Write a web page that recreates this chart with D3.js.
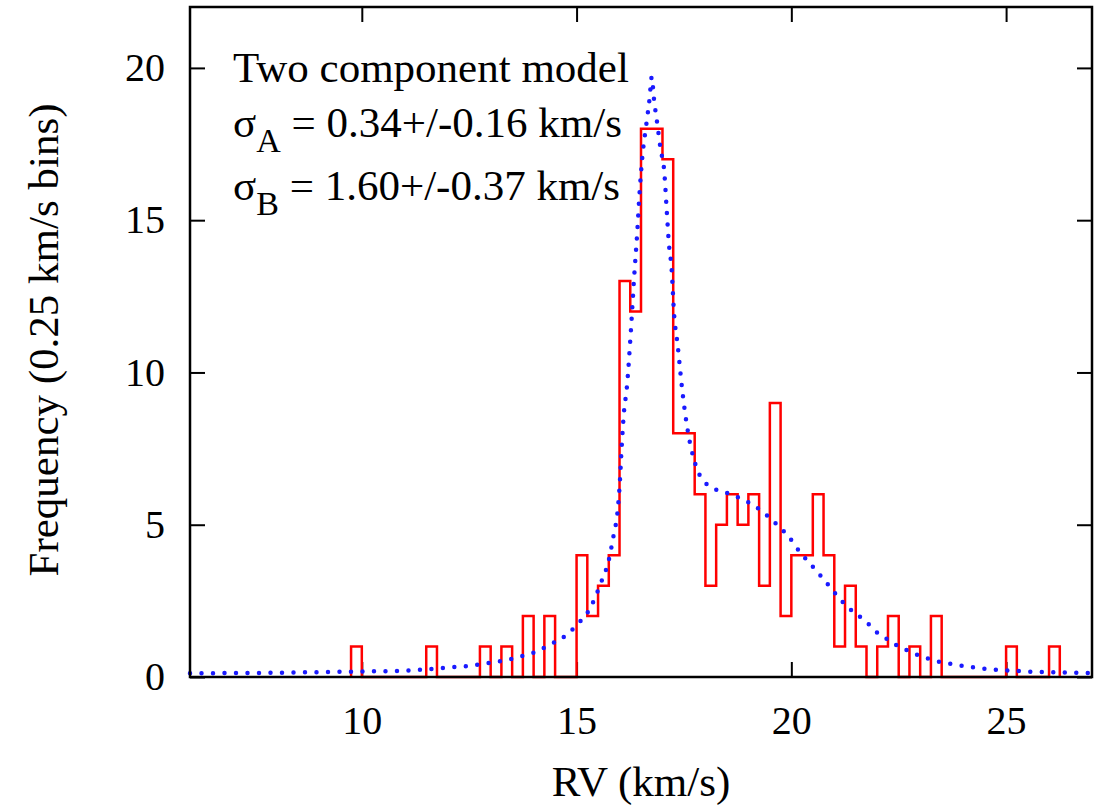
<!DOCTYPE html>
<html>
<head>
<meta charset="utf-8">
<script src="https://cdn.jsdelivr.net/npm/d3@7"></script>
<style>
  body { margin: 0; background: #fff; }
</style>
</head>
<body>
<script>
// histogram: left edge of each 0.25 km/s bin and its count
var binStart = [9.75, 11.5, 12.75, 13.25, 13.75, 14.25,
                15.0, 15.25, 15.5, 15.75, 16.0, 16.25, 16.5, 16.75, 17.0, 17.25, 17.5, 17.75,
                18.0, 18.25, 18.5, 18.75, 19.0, 19.25, 19.5, 19.75, 20.0, 20.25, 20.5, 20.75,
                21.0, 21.25, 21.5, 22.0, 22.25, 22.75, 23.25, 25.0, 26.0];
var binCount = [1, 1, 1, 1, 2, 2,
                4, 2, 3, 4, 13, 12, 18, 18, 17, 8, 8, 6,
                3, 5, 6, 5, 6, 3, 9, 2, 4, 4, 6, 4,
                1, 3, 1, 1, 2, 1, 2, 1, 1];
var binWidth = 0.25;

// two component model curve
var modelRV = [6.0, 7.0, 8.0, 9.0, 10.0, 10.8, 11.3, 11.9, 12.45, 13.0, 13.5, 13.8, 14.1, 14.35, 14.6,
               15.0, 15.33, 15.56, 15.75, 15.87, 15.95, 16.01, 16.05, 16.10, 16.17, 16.26, 16.34, 16.41,
               16.47, 16.53, 16.63, 16.70, 16.75, 16.80, 16.88, 16.96, 17.04, 17.10, 17.15, 17.21, 17.27,
               17.35, 17.47, 17.60, 17.74, 17.89, 18.28, 18.55, 18.82, 19.06, 19.29, 19.52, 19.72, 19.91,
               20.22, 20.42, 20.77, 20.96, 21.31, 21.55, 21.78, 21.97, 22.2, 22.44, 22.67, 22.95, 23.18,
               23.45, 23.72, 24.0, 24.27, 24.58, 24.81, 25.12, 25.66, 26.21, 26.75, 27.0];
var modelFreq = [0.12, 0.13, 0.14, 0.16, 0.18, 0.2, 0.23, 0.3, 0.36, 0.47, 0.6, 0.72, 0.85, 1.05, 1.22,
                 1.7, 2.3, 3.07, 3.84, 4.71, 5.37, 6.46, 7.55, 8.64, 9.5, 11.27, 13.12, 14.55,
                 15.97, 17.06, 18.21, 19.0, 19.7, 19.0, 18.15, 17.3, 16.62, 15.3, 14.22, 13.45, 11.92,
                 10.94, 9.3, 7.99, 7.11, 6.57, 6.13, 6.02, 5.86, 5.69, 5.47, 5.2, 4.93, 4.66,
                 4.06, 3.75, 3.18, 2.85, 2.3, 2.03, 1.76, 1.49, 1.27, 1.05, 0.89, 0.72, 0.61,
                 0.5, 0.43, 0.36, 0.31, 0.26, 0.23, 0.21, 0.17, 0.15, 0.14, 0.13];

var xTicks = [10, 15, 20, 25];
var yTicks = [0, 5, 10, 15, 20];

var FONT = "Liberation Serif";

var W = 1099, H = 805;
var margin = {top: 7, right: 7, bottom: 128, left: 190},
    width = W - margin.left - margin.right,
    height = H - margin.top - margin.bottom;

var x = d3.scaleLinear().domain([6, 27]).range([0, width]);
var y = d3.scaleLinear().domain([0, 22]).range([height, 0]);

var svg = d3.select("body").append("svg")
    .attr("width", W)
    .attr("height", H);

var g = svg.append("g")
    .attr("transform", "translate(" + margin.left + "," + margin.top + ")");

// axes: ticks pointing inward on all sides
g.append("g")
    .attr("transform", "translate(0," + height + ")")
    .call(d3.axisBottom(x).tickValues(xTicks).tickSizeInner(-15).tickSizeOuter(0).tickPadding(29));
g.append("g")
    .call(d3.axisLeft(y).tickValues(yTicks).tickSizeInner(-15).tickSizeOuter(0).tickPadding(25));
g.append("g")
    .call(d3.axisTop(x).tickValues(xTicks).tickSizeInner(-15).tickSizeOuter(0).tickFormat(""));
g.append("g")
    .attr("transform", "translate(" + width + ",0)")
    .call(d3.axisRight(y).tickValues(yTicks).tickSizeInner(-15).tickSizeOuter(0).tickFormat(""));

g.selectAll(".domain").remove();
g.selectAll(".tick line").attr("stroke", "#000").attr("stroke-width", 2);
g.selectAll(".tick text")
    .attr("font-family", FONT)
    .attr("font-size", 40)
    .attr("fill", "#000");

// histogram outline as steps
var bins = binStart.map(function(s, i) { return {x0: s, x1: s + binWidth, n: binCount[i]}; });
var pts = [];
bins.forEach(function(b, i) {
  var prev = bins[i - 1];
  if (!prev || Math.abs(prev.x1 - b.x0) > 1e-6) {
    if (prev) pts.push([prev.x1, 0]);
    pts.push([b.x0, 0]);
  }
  pts.push([b.x0, b.n]);
  pts.push([b.x1, b.n]);
});
pts.push([bins[bins.length - 1].x1, 0]);

g.append("path")
    .datum(pts)
    .attr("fill", "none")
    .attr("stroke", "#ff0000")
    .attr("stroke-width", 2.5)
    .attr("d", d3.line()
      .x(function(d) { return x(d[0]); })
      .y(function(d) { return y(d[1]); }));

// model curve, dotted
var model = modelRV.map(function(v, i) { return [v, modelFreq[i]]; });
g.append("path")
    .datum(model)
    .attr("fill", "none")
    .attr("stroke", "#1a1aff")
    .attr("stroke-width", 4.5)
    .attr("stroke-linecap", "round")
    .attr("stroke-dasharray", "0 11.5")
    .attr("d", d3.line()
      .curve(d3.curveMonotoneX)
      .x(function(d) { return x(d[0]); })
      .y(function(d) { return y(d[1]); }));

// frame
g.append("rect")
    .attr("width", width)
    .attr("height", height)
    .attr("fill", "none")
    .attr("stroke", "#000")
    .attr("stroke-width", 2.5);

// axis titles
svg.append("text")
    .attr("x", margin.left + width / 2)
    .attr("y", 796)
    .attr("text-anchor", "middle")
    .attr("font-family", FONT)
    .attr("font-size", 43)
    .text("RV (km/s)");

svg.append("text")
    .attr("transform", "translate(58,340) rotate(-90)")
    .attr("text-anchor", "middle")
    .attr("font-family", FONT)
    .attr("font-size", 43)
    .text("Frequency (0.25 km/s bins)");

// annotation
function addLine(yPos) {
  return svg.append("text")
    .attr("x", 233).attr("y", yPos)
    .attr("font-family", FONT)
    .attr("font-size", 43);
}
addLine(82).text("Two component model");

var l2 = addLine(137);
l2.append("tspan").text("\u03c3");
l2.append("tspan").attr("dy", 15).attr("font-size", 34).text("A");
l2.append("tspan").attr("dy", -15).text(" = 0.34+/-0.16 km/s");

var l3 = addLine(200);
l3.append("tspan").text("\u03c3");
l3.append("tspan").attr("dy", 15).attr("font-size", 34).text("B");
l3.append("tspan").attr("dy", -15).text(" = 1.60+/-0.37 km/s");
</script>
</body>
</html>
